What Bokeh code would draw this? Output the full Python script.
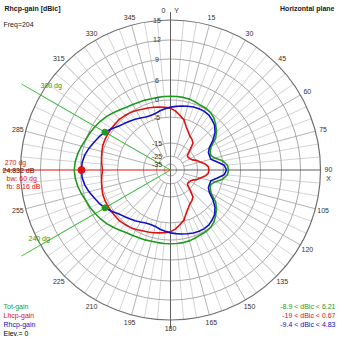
import numpy as np
from bokeh.plotting import figure
from bokeh.models import Range1d
from bokeh.core.properties import value
from bokeh.embed import file_html
from bokeh.resources import INLINE

# ---------------- data (dBic, azimuth clockwise from Y axis, 5 deg steps) ----
azimuth = list(range(0, 360, 5))
tot_gain = [1.1, 1.1, 1.1, 1.0, 0.7, 0.4, 0.3, 0.0, -0.7, -1.8, -2.9, -4.4, -7.3, -8.5, -8.9, -7.7, -5.0, -3.8, -3.5,
            -3.8, -5.0, -7.7, -8.9, -8.5, -7.3, -4.4, -2.9, -1.8, -0.7, 0.0, 0.3, 0.4, 0.7, 1.0, 1.1, 1.1,
            1.1,
            1.1, 1.1, 1.1, 1.3, 1.4, 1.7, 2.0, 2.6, 3.3, 4.0, 4.6, 5.1, 5.6, 6.0, 6.3, 6.6, 6.8,
            6.9, 6.8, 6.6, 6.3, 6.0, 5.6, 5.1, 4.6, 4.0, 3.3, 2.6, 2.0, 1.7, 1.4, 1.3, 1.1, 1.1, 1.1]
lhcp_gain = [-2.4, -3.2, -4.3, -5.4, -7.7, -9.2, -10.4, -11.0, -11.9, -15.0, -18.9, -19.0, -18.4, -17.3, -14.6, -13.5, -11.9, -10.8, -10.6,
             -10.8, -11.9, -13.5, -14.6, -17.3, -18.4, -19.0, -18.9, -15.0, -11.9, -11.0, -10.4, -9.2, -7.7, -5.4, -4.3, -3.2,
             -2.4,
             -2.1, -1.8, -1.5, -1.2, -0.9, -0.4, 0.0, 0.3, 0.6, 0.6, 0.67, 0.67, 0.67, 0.6, 0.3, 0.0, -0.3,
             -0.6, -0.3, 0.0, 0.3, 0.6, 0.67, 0.67, 0.67, 0.6, 0.6, 0.3, 0.0, -0.4, -0.9, -1.2, -1.5, -1.8, -2.1]
rhcp_gain = [-2.1, -1.8, -1.5, -1.2, -0.9, -0.7, -0.7, -0.9, -1.5, -2.2, -3.5, -5.4, -8.1, -9.3, -9.4, -9.3, -7.3, -4.7, -4.1,
             -4.7, -7.3, -9.3, -9.4, -9.3, -8.1, -5.4, -3.5, -2.2, -1.5, -0.9, -0.7, -0.7, -0.9, -1.2, -1.5, -1.8,
             -2.1,
             -2.5, -2.9, -3.4, -3.5, -3.4, -2.9, -2.4, -1.9, -1.3, -0.6, 0.6, 1.7, 2.6, 3.4, 4.3, 5.1, 5.6,
             5.7, 5.6, 5.1, 4.3, 3.4, 2.6, 1.7, 0.6, -0.6, -1.3, -1.9, -2.4, -2.9, -3.4, -3.5, -3.4, -2.9, -2.5]

ring_db = [15, 12, 9, 6, 0, -5, -15, -25, -35]
ring_labels = ["15", "12", "9", "6", "0", "-5", "-15", "-25", "-35"]
angle_ticks = list(range(0, 360, 15))
max_dir = 270
bw_dirs = [240, 300]
bw_labels = ["240 dg", "300 dg"]
info_lines = ["270 dg", "24.832 dB", "bw: 60 dg", "fb: 8.16 dB"]
legend_names = ["Tot-gain", "Lhcp-gain", "Rhcp-gain"]
legend_ranges = ["-8.9 < dBic < 6.21", "-19 < dBic < 0.67", "-9.4 < dBic < 4.83"]
title_text = "Rhcp-gain [dBic]"
freq_text = "Freq=204"
plane_text = "Horizontal plane"
elev_text = "Elev.= 0"

# ---------------- radial scale (ARRL-like compressed) ----------------------
R = 150.0
scale_db = [-45, -35, -25, -15, -5, 0, 6, 9, 12, 15]
scale_fr = [0.0, 0.04, 0.093, 0.18, 0.353, 0.467, 0.60, 0.74, 0.867, 1.0]


def rad(db):
    return np.interp(np.asarray(db, dtype=float), scale_db, scale_fr) * R


def polar(r, ang):
    a = np.radians(np.asarray(ang, dtype=float))
    return r * np.sin(a), r * np.cos(a)


CX, CY = 170.0, 169.5


def P(px, py):
    return px - CX, CY - py


GREEN = "#1e9a1e"
GREEN_L = "#3cc83c"
RED = "#e01010"
BLUE = "#1010c8"
FONT = value("Liberation Sans")

p = figure(width=339, height=339, output_backend="svg", toolbar_location=None,
           x_range=Range1d(-CX, 339 - CX), y_range=Range1d(CY - 339, CY),
           min_border=0, background_fill_color="white", border_fill_color="white")
p.axis.visible = False
p.grid.visible = False
p.outline_line_color = None

# spokes
fine = [a for a in range(0, 360, 5) if a % 15]
x0, y0 = polar(rad(-5), fine)
x1, y1 = polar(R, fine)
p.segment(x0, y0, x1, y1, line_color="#d4d4d4", line_width=1)
major = [a for a in angle_ticks if a % 90]
x0, y0 = polar(rad(-25), major)
x1, y1 = polar(R, major)
p.segment(x0, y0, x1, y1, line_color="#b4b4b4", line_width=1)

# rings
for db in ring_db[1:]:
    p.circle(x=0, y=0, radius=float(rad(db)), fill_color=None, line_color="#a8a8a8", line_width=1)
p.circle(x=0, y=0, radius=R, fill_color=None, line_color="#707070", line_width=1.2)

# axes
p.segment([0], [R + 8], [0], [-R - 8], line_color="#606060", line_width=1)
p.segment([0], [0], [R], [0], line_color="#606060", line_width=1)

# beamwidth lines
bx, by = polar(np.array([172.0, 172.0]), bw_dirs)
p.segment([0, 0], [0, 0], bx, by, line_color=GREEN_L, line_width=1)
# max direction line
mx, my = polar(168.0, max_dir)
p.segment([0], [0], [mx], [my], line_color=RED, line_width=1)

az = np.array(azimuth + [azimuth[0]])
for series, col in [(tot_gain, GREEN), (lhcp_gain, RED), (rhcp_gain, BLUE)]:
    vals = np.array(series + [series[0]])
    xs, ys = polar(rad(vals), az)
    p.line(xs, ys, line_color=col, line_width=1.6)

# markers
idx = {a: i for i, a in enumerate(azimuth)}
bxs, bys = polar(rad([rhcp_gain[idx[a]] for a in bw_dirs]), bw_dirs)
p.scatter(bxs, bys, size=6, fill_color=GREEN, line_color=GREEN)
mxs, mys = polar(rad([rhcp_gain[idx[max_dir]]]), [max_dir])
p.scatter(mxs, mys, size=7, fill_color=RED, line_color=RED)

# angle labels
lab_ang = [a for a in angle_ticks if a not in (0, 90, 240, 270, 300)]
lx, ly = polar(158.0, lab_ang)
p.text(lx, ly, text=[str(a) for a in lab_ang], text_font=FONT, text_font_size="7px",
       text_color="#303030", text_align="center", text_baseline="middle")

# radial labels
rl_y = rad(ring_db)
p.text([-13.5] * len(ring_db), rl_y, text=ring_labels, text_font=FONT, text_font_size="7px",
       text_color="#303030", text_align="center", text_baseline="middle")


def txt(px, py, s, col="#000000", align="left", bold=False, size="7px"):
    x, y = P(px, py)
    p.text([x], [y], text=[s], text_font=FONT, text_font_size=size, text_color=col,
           text_align=align, text_baseline="middle", text_font_style="bold" if bold else "normal")


txt(163, 10, "0", "#303030", "center")
txt(176, 10, "Y", "#303030", "center")
txt(328, 169, "90", "#303030", "center")
txt(328, 178, "X", "#303030", "center")

txt(4, 8, title_text, "#202020", bold=True)
txt(3, 24, freq_text, "#202020")
txt(334, 8, plane_text, "#202020", "right", bold=True)

txt(15, 162, info_lines[0], RED, "center")
txt(2, 170, info_lines[1], "#500000")
txt(6, 178, info_lines[2], RED)
txt(6, 186, info_lines[3], RED)
txt(28, 238, bw_labels[0], GREEN)
txt(40, 85, bw_labels[1], GREEN)

for i, (nm, col) in enumerate(zip(legend_names, [GREEN, RED, BLUE])):
    txt(3, 305.5 + 9 * i, nm, col)
    txt(335, 305.5 + 9 * i, legend_ranges[i], col, "right")
txt(3, 332.5, elev_text, "#000000")

open("out.html", "w").write(file_html(p, INLINE))
